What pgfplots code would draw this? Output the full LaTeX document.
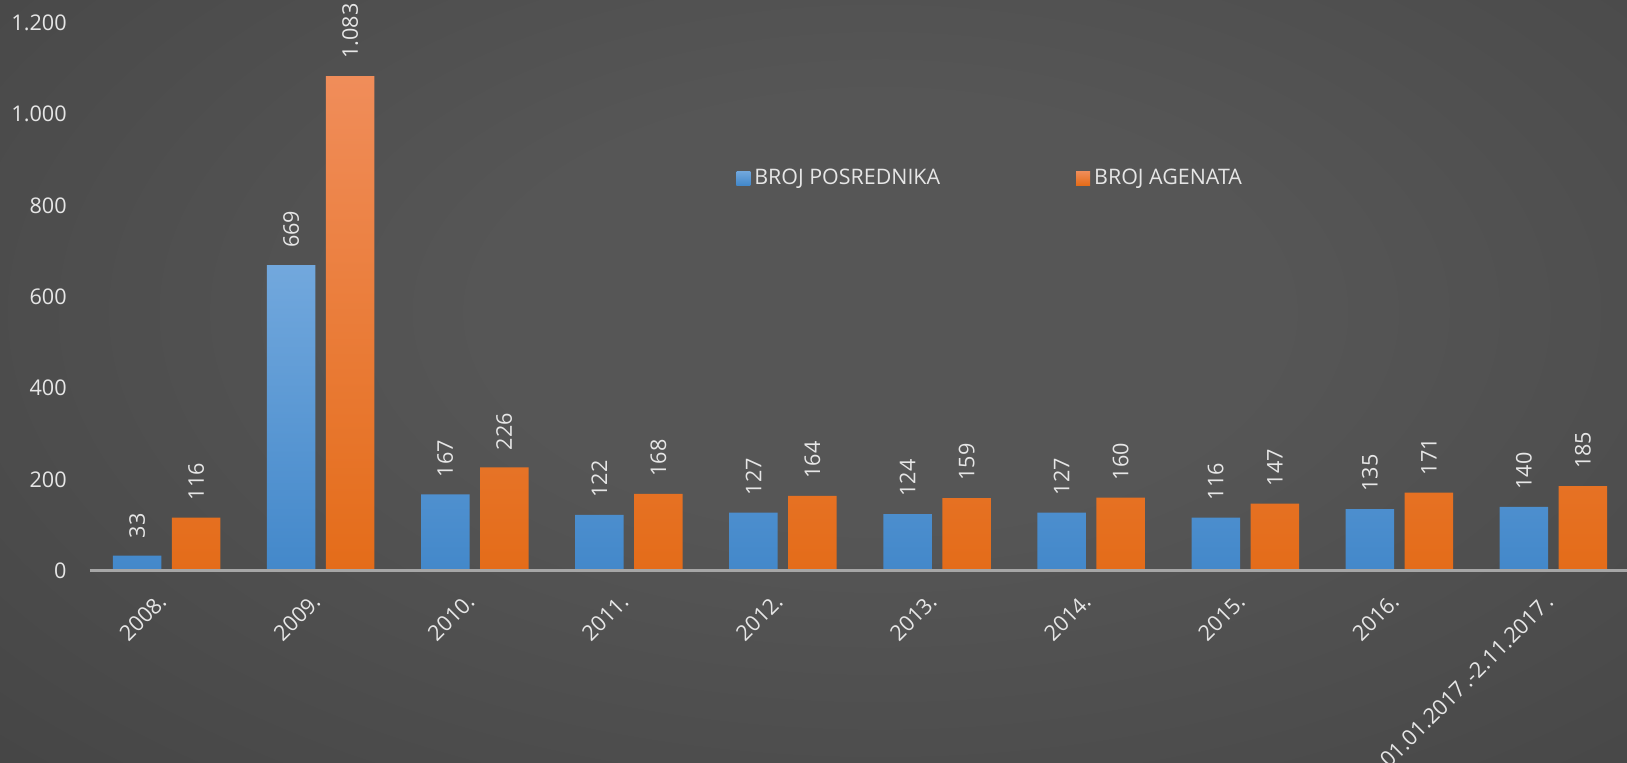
\documentclass[border=0pt]{standalone}
\usepackage{pgfplots}
\pgfplotsset{compat=1.18}
\usepackage{fontspec}
\setmainfont{Open Sans}
\definecolor{bgc}{HTML}{565656}
\definecolor{bgm}{HTML}{373737}
\definecolor{bge}{HTML}{2A2A2A}
\definecolor{btop}{HTML}{72A8DD}
\definecolor{bmid}{HTML}{589CDB}
\definecolor{bbot}{HTML}{4388CA}
\definecolor{otop}{HTML}{F08D5A}
\definecolor{omid}{HTML}{F47F2B}
\definecolor{obot}{HTML}{E46C19}
\definecolor{txt}{HTML}{E6E6E6}
\definecolor{axl}{HTML}{A6A6A6}
\pgfdeclareradialshading{bgshade}{\pgfpoint{0bp}{0bp}}{color(0bp)=(bgc); color(10bp)=(bgc); color(50bp)=(bgm); color(71bp)=(bge)}
\begin{document}
\begin{tikzpicture}
\useasboundingbox (0,0) rectangle (813.5pt,381pt);
\shade[shading=bgshade] (-50pt,-40pt) rectangle (930pt,490pt);
\begin{axis}[
  at={(44.75pt,95.65pt)}, anchor=south west,
  scale only axis, width=770.5pt, height=274pt,
  xmin=-0.5, xmax=9.5, ymin=0, ymax=1200,
  ytick={0,200,...,1200},
  xtick={0,...,9},
  xticklabels={2008.,2009.,2010.,2011.,2012.,2013.,2014.,2015.,2016.,{01.01.2017\,.-2.11.2017\,.}},
  axis line style={draw=none},
  axis x line*=bottom, axis y line*=left,
  major tick length=0pt,
  /pgf/number format/.cd, 1000 sep={.}, assume math mode=true, /pgfplots/.cd,
  ticklabel style={font=\fontsize{10.8}{13}\selectfont, text=txt},
  yticklabel style={anchor=east, inner sep=0pt, xshift=-11.25pt},
  xticklabel style={inner sep=0pt, yshift=-13.5pt, xshift=-2pt, rotate=45, anchor=east},
  ybar=5.25pt, bar width=24.25pt,
  nodes near coords,
  every node near coord/.append style={font=\fontsize{10.8}{13}\selectfont, text=txt, rotate=90, anchor=west, inner ysep=0pt, inner xsep=8.5pt},
  legend columns=2,
  legend style={at={(axis description cs:0.4195,0.7166)}, anchor=west, draw=none, fill=none, inner sep=0pt,
    font=\fontsize{10.7}{12}\selectfont, text=txt,
    /tikz/every even column/.append style={column sep=66pt}},
  legend image code/.code={\fill[#1] (0pt,-3.5pt) rectangle (7pt,3.5pt);},
  clip=false,
]
\addplot[draw=none, top color=btop, middle color=bmid, bottom color=bbot] coordinates {(0,33) (1,669) (2,167) (3,122) (4,127) (5,124) (6,127) (7,116) (8,135) (9,140)};
\addplot[draw=none, top color=otop, middle color=omid, bottom color=obot] coordinates {(0,116) (1,1083) (2,226) (3,168) (4,164) (5,159) (6,160) (7,147) (8,171) (9,185)};
\legend{BROJ POSREDNIKA, BROJ AGENATA}
\draw[axl, line width=1.3pt] (rel axis cs:0,0) -- (rel axis cs:1,0);
\end{axis}
\end{tikzpicture}
\end{document}
